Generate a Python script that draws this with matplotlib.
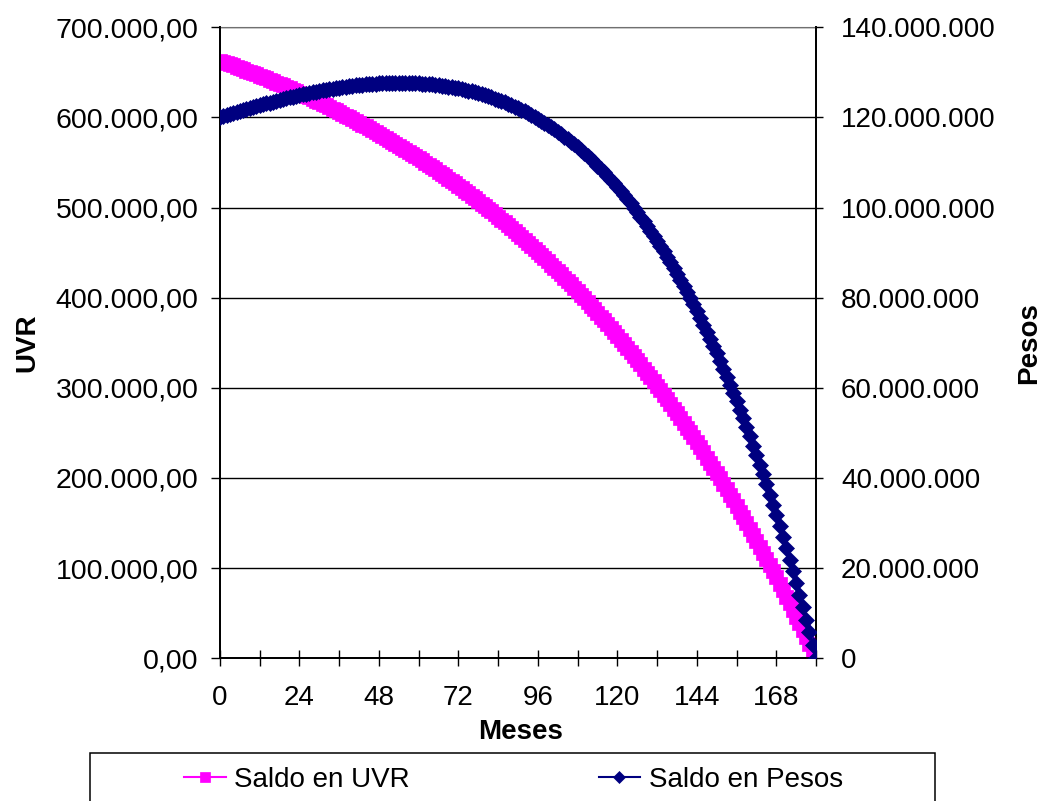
import matplotlib
matplotlib.use("Agg")
import matplotlib.pyplot as plt
from matplotlib.patches import Rectangle
from matplotlib.ticker import FuncFormatter

plt.rcParams['font.family'] = ['Liberation Sans', 'DejaVu Sans']

# Meses 0..180
meses = list(range(181))

# Saldo en UVR (miles de UVR)
saldo_uvr = [
    663.0, 661.7, 660.3, 659.0, 657.6, 656.2, 654.8, 653.4, 652.0, 650.6,
    649.1, 647.6, 646.2, 644.7, 643.2, 641.6, 640.1, 638.5, 637.0, 635.4,
    633.8, 632.2, 630.5, 628.9, 627.2, 625.5, 623.8, 622.1, 620.4, 618.6,
    616.8, 615.1, 613.3, 611.4, 609.6, 607.7, 605.8, 603.9, 602.0, 600.1,
    598.1, 596.2, 594.2, 592.1, 590.1, 588.0, 586.0, 583.9, 581.8, 579.6,
    577.5, 575.3, 573.1, 570.8, 568.6, 566.3, 564.0, 561.7, 559.4, 557.0,
    554.6, 552.2, 549.8, 547.3, 544.8, 542.3, 539.8, 537.2, 534.6, 532.0,
    529.4, 526.7, 524.0, 521.3, 518.6, 515.8, 513.0, 510.2, 507.3, 504.4,
    501.5, 498.6, 495.6, 492.6, 489.6, 486.5, 483.4, 480.3, 477.2, 474.0,
    470.8, 467.5, 464.2, 460.9, 457.6, 454.2, 450.8, 447.3, 443.8, 440.3,
    436.8, 433.2, 429.5, 425.9, 422.2, 418.4, 414.7, 410.9, 407.0, 403.1,
    399.2, 395.2, 391.2, 387.2, 383.1, 379.0, 374.8, 370.6, 366.3, 362.1,
    357.7, 353.3, 348.9, 344.4, 339.9, 335.4, 330.8, 326.1, 321.4, 316.7,
    311.9, 307.1, 302.2, 297.2, 292.2, 287.2, 282.1, 277.0, 271.8, 266.6,
    261.3, 255.9, 250.5, 245.1, 239.6, 234.0, 228.4, 222.7, 217.0, 211.2,
    205.4, 199.5, 193.5, 187.5, 181.4, 175.3, 169.0, 162.8, 156.4, 150.0,
    143.6, 137.1, 130.5, 123.8, 117.1, 110.3, 103.5, 96.6, 89.6, 82.5,
    75.4, 68.2, 60.9, 53.5, 46.1, 38.6, 31.1, 23.4, 15.7, 7.9,
    0.0,
]

# Saldo en Pesos (millones)
saldo_pesos = [
    120.00, 120.24, 120.48, 120.71, 120.94, 121.17, 121.40, 121.62, 121.84, 122.06,
    122.27, 122.48, 122.69, 122.90, 123.10, 123.30, 123.49, 123.69, 123.88, 124.06,
    124.25, 124.42, 124.60, 124.77, 124.94, 125.10, 125.26, 125.41, 125.56, 125.71,
    125.85, 125.99, 126.12, 126.25, 126.37, 126.49, 126.60, 126.71, 126.81, 126.91,
    127.00, 127.09, 127.17, 127.24, 127.31, 127.38, 127.43, 127.49, 127.53, 127.57,
    127.60, 127.63, 127.65, 127.66, 127.67, 127.67, 127.66, 127.64, 127.62, 127.59,
    127.55, 127.50, 127.45, 127.38, 127.31, 127.23, 127.15, 127.05, 126.95, 126.83,
    126.71, 126.57, 126.43, 126.28, 126.12, 125.94, 125.76, 125.57, 125.37, 125.15,
    124.93, 124.69, 124.44, 124.18, 123.91, 123.63, 123.34, 123.03, 122.71, 122.38,
    122.04, 121.68, 121.31, 120.93, 120.52, 120.11, 119.69, 119.24, 118.79, 118.32,
    117.83, 117.33, 116.82, 116.28, 115.74, 115.17, 114.59, 113.99, 113.37, 112.74,
    112.09, 111.42, 110.73, 110.03, 109.30, 108.55, 107.79, 107.01, 106.20, 105.38,
    104.53, 103.66, 102.77, 101.86, 100.93, 99.98, 99.00, 98.00, 96.98, 95.92,
    94.85, 93.75, 92.63, 91.48, 90.31, 89.11, 87.88, 86.62, 85.35, 84.03,
    82.69, 81.32, 79.93, 78.50, 77.05, 75.56, 74.04, 72.49, 70.90, 69.29,
    67.64, 65.96, 64.24, 62.50, 60.71, 58.89, 57.03, 55.14, 53.20, 51.23,
    49.22, 47.17, 45.09, 42.96, 40.80, 38.58, 36.33, 34.04, 31.69, 29.31,
    26.89, 24.41, 21.90, 19.33, 16.72, 14.06, 11.35, 8.58, 5.77, 2.91,
    0.00,
]

ticks_meses = list(range(0, 181, 12))
ticks_uvr = list(range(0, 701, 100))
ticks_pesos = list(range(0, 141, 20))


def fmt_uvr(v, pos):
    return f"{int(round(v * 1000)):,}".replace(",", ".") + ",00"


def fmt_pesos(v, pos):
    return f"{int(round(v * 1000000)):,}".replace(",", ".")


fig = plt.figure(figsize=(10.42, 8.01), dpi=100)
ax = fig.add_axes([0.2111, 0.1782, 0.5720, 0.7878])
ax2 = ax.twinx()

rosa = "#FF00FF"
azul = "#000080"

l1, = ax.plot(meses, saldo_uvr, color=rosa, lw=1.5, marker="s", ms=9.5,
              mec=rosa, mfc=rosa, mew=0.5, label="Saldo en UVR", zorder=3)
l2, = ax2.plot(meses, saldo_pesos, color=azul, lw=1.5, marker="D", ms=7.8,
               mec=azul, mfc=azul, mew=0.5, label="Saldo en Pesos", zorder=3)

ax.set_xlim(0, 180)
ax.set_ylim(0, 700)
ax2.set_ylim(0, 140)

ax.set_xticks(ticks_meses)
ax.set_xticklabels([str(m) if (m % 24 == 0 and m < 180) else "" for m in ticks_meses])
ax.set_yticks(ticks_uvr)
ax2.set_yticks(ticks_pesos)
ax.yaxis.set_major_formatter(FuncFormatter(fmt_uvr))
ax2.yaxis.set_major_formatter(FuncFormatter(fmt_pesos))

# rejilla horizontal
for v in ticks_uvr[1:]:
    ax.axhline(v, color="black", lw=1.0, zorder=1)

for s in ["left", "bottom", "right"]:
    ax.spines[s].set_linewidth(1.3)
    ax2.spines[s].set_linewidth(1.3)
ax.spines["top"].set_color("#707070")
ax2.spines["top"].set_visible(False)

ax.tick_params(axis="x", direction="inout", length=12, width=1, pad=13, labelsize=20)
ax.tick_params(axis="y", direction="out", length=6.5, width=1, pad=9, labelsize=20.5)
ax2.tick_params(axis="y", direction="out", length=5, width=1, pad=13, labelsize=20)

ax.set_xlabel("Meses", fontsize=20, fontweight="bold")
ax.xaxis.set_label_coords(0.505, -0.097)
ax.set_ylabel("UVR", fontsize=20, fontweight="bold")
ax.yaxis.set_label_coords(-0.302, 0.5)
ax2.set_ylabel("Pesos", fontsize=20, fontweight="bold")
ax2.yaxis.set_label_coords(1.335, 0.5)

# leyenda
fig.legend(handles=[l1, l2], loc="center left", bbox_to_anchor=(184 / 1042, 1 - 780 / 801),
           ncol=2, frameon=False, fontsize=20, handlelength=1.5, handletextpad=0.3,
           columnspacing=6.8, borderpad=0, borderaxespad=0, numpoints=1, markerscale=0.8)
fig.patches.append(Rectangle((90 / 1042, -0.05), 845 / 1042, 0.05 + 1 - 753 / 801,
                             transform=fig.transFigure, fill=False, ec="black", lw=1.1))

fig.savefig("out.png", dpi=100)
